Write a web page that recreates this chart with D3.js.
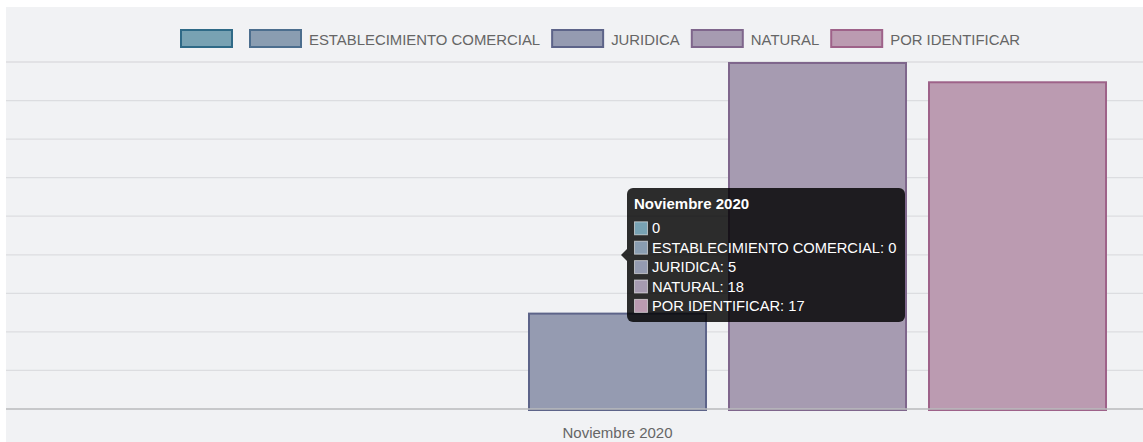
<!DOCTYPE html>
<html>
<head>
<meta charset="utf-8">
<script src="https://cdn.jsdelivr.net/npm/d3@7/dist/d3.min.js"></script>
<style>
  html, body { margin: 0; padding: 0; background: #ffffff; }
  svg { display: block; font-family: "Liberation Sans", Arial, Helvetica, sans-serif; }
</style>
</head>
<body>
<svg id="chart" width="1143" height="442"></svg>
<script>
// ---- data ----
const categories = ["Noviembre 2020"];
const seriesNames = ["", "ESTABLECIMIENTO COMERCIAL", "JURIDICA", "NATURAL", "POR IDENTIFICAR"];
const seriesValues = [0, 0, 5, 18, 17];
const yTicks = [0, 2, 4, 6, 8, 10, 12, 14, 16, 18];
const tooltipLabels = ["0", "ESTABLECIMIENTO COMERCIAL: 0", "JURIDICA: 5", "NATURAL: 18", "POR IDENTIFICAR: 17"];

// ---- styles ----
const fills   = ["#78a2b3", "#8a9db1", "#959bb1", "#a69bb1", "#bb9bb1"];
const strokes = ["#2f6a87", "#4c6e8e", "#5d6489", "#7f668c", "#9e6289"];

const W = 1143, H = 442;
const svg = d3.select("#chart");

// background
svg.append("rect").attr("x", 0).attr("y", 0).attr("width", W).attr("height", H).attr("fill", "#ffffff");
svg.append("rect").attr("x", 6).attr("y", 7).attr("width", W - 6).attr("height", H - 7).attr("fill", "#f1f2f4");

// scales
const y = d3.scaleLinear().domain([0, 18]).range([409, 62]);
const x0 = d3.scaleBand().domain(categories).range([-7.5, 1242.5]).padding(0);
const cw = x0.bandwidth();
const x1 = d3.scaleBand().domain(seriesNames)
  .range([x0(categories[0]) + 0.1 * cw, x0(categories[0]) + 0.9 * cw])
  .paddingInner(0.105).paddingOuter(0.0525);

// gridlines
const grid = svg.append("g");
grid.selectAll("line.grid").data(yTicks.filter(d => d !== 0)).enter().append("line")
  .attr("class", "grid")
  .attr("x1", 6).attr("x2", W)
  .attr("y1", d => y(d)).attr("y2", d => y(d))
  .attr("stroke", "#dcdde0").attr("stroke-width", 1.3);

// bars
const barData = seriesNames.map((s, i) => ({ s, v: seriesValues[i], i })).filter(d => d.v > 0);
svg.append("g").selectAll("rect").data(barData).enter().append("rect")
  .attr("x", d => x1(d.s) + 1)
  .attr("width", x1.bandwidth() - 2)
  .attr("y", d => y(d.v) + 1)
  .attr("height", d => y(0) - y(d.v))
  .attr("fill", d => fills[d.i])
  .attr("stroke", d => strokes[d.i])
  .attr("stroke-width", 2);

// baseline axis
const xAxis = d3.axisBottom(x0).tickSize(0).tickPadding(0);
const gx = svg.append("g").attr("transform", `translate(0,${y(0)})`).call(xAxis);
gx.select(".domain").remove();
gx.append("line").attr("x1", 6).attr("x2", W).attr("y1", 0).attr("y2", 0)
  .attr("stroke", "#b9babd").attr("stroke-width", 1.5);
gx.selectAll(".tick text")
  .attr("y", 29).attr("dy", 0)
  .attr("fill", "#666666")
  .style("font-size", "15px")
  .style("font-family", "'Liberation Sans', Arial, sans-serif");

// legend
const legend = svg.append("g");
let lx = 181;
seriesNames.forEach((name, i) => {
  legend.append("rect")
    .attr("x", lx).attr("y", 30).attr("width", 51).attr("height", 17)
    .attr("fill", fills[i]).attr("stroke", strokes[i]).attr("stroke-width", 2);
  let tw = 0;
  if (name) {
    const t = legend.append("text")
      .attr("x", lx + 52 + 7).attr("y", 44.5)
      .attr("fill", "#666666")
      .style("font-size", "14.9px")
      .text(name);
    tw = t.node().getComputedTextLength();
  }
  lx += 52 + 7 + tw + 12;
  if (!name) lx -= 2;
});

// tooltip
const tip = svg.append("g");
tip.append("rect")
  .attr("x", 627).attr("y", 188).attr("width", 278).attr("height", 134).attr("rx", 6)
  .attr("fill", "rgba(0,0,0,0.82)");
tip.append("path")
  .attr("d", "M627,249 L621,255 L627,261 Z")
  .attr("fill", "rgba(0,0,0,0.82)");
tip.append("text")
  .attr("x", 634).attr("y", 209)
  .attr("fill", "#ffffff")
  .style("font-size", "15px").style("font-weight", "bold")
  .text(categories[0]);
tooltipLabels.forEach((lab, i) => {
  const by = 233.3 + i * 19.4;
  tip.append("rect")
    .attr("x", 634.5).attr("y", by - 11.5).attr("width", 13).attr("height", 13)
    .attr("fill", fills[i]).attr("stroke", "rgba(255,255,255,0.55)").attr("stroke-width", 1);
  tip.append("text")
    .attr("x", 652).attr("y", by)
    .attr("fill", "#ffffff")
    .style("font-size", "14.7px")
    .text(lab);
});
</script>
</body>
</html>
